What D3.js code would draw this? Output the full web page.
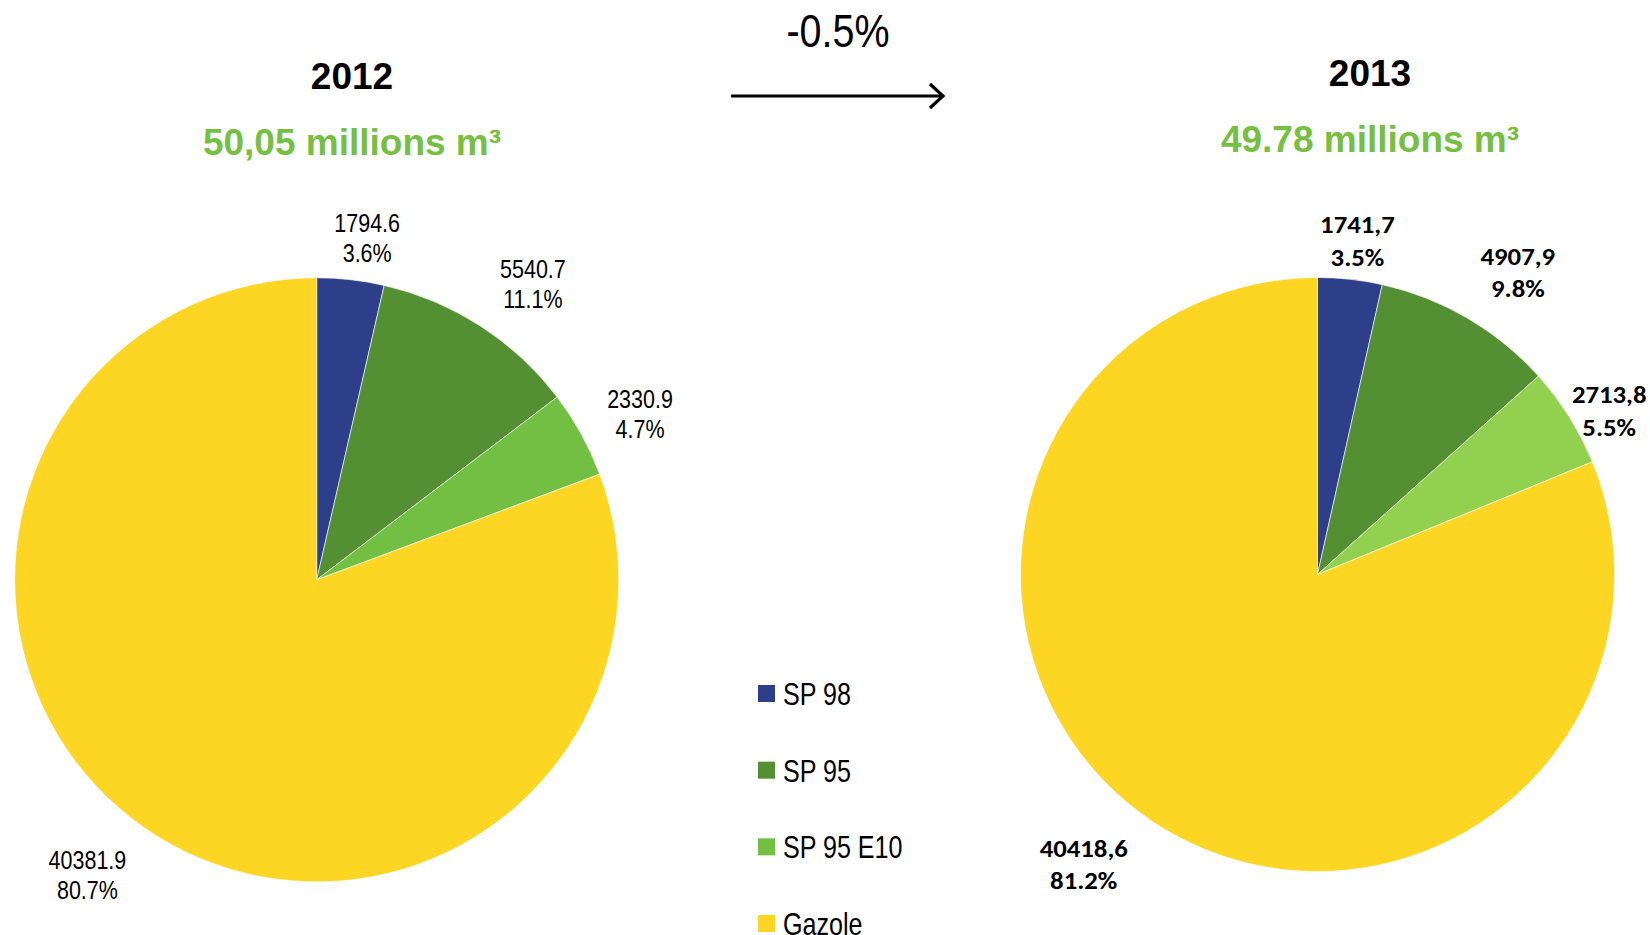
<!DOCTYPE html>
<html>
<head>
<meta charset="utf-8">
<script src="https://cdn.jsdelivr.net/npm/d3@7"></script>
<style>
  body { margin: 0; background: #fff; }
  svg { display: block; }
  .arial { font-family: "Liberation Sans", Arial, sans-serif; }
  .calib { font-family: Carlito, Calibri, Lato, sans-serif; font-weight: bold; }
</style>
</head>
<body>
<div id="chart"></div>
<script>
var width = 1650, height = 935;

var svg = d3.select("#chart").append("svg")
    .attr("width", width)
    .attr("height", height);

// volumes (milliers de m3) par carburant
var pies = [
  {year: "2012", total: "50,05 millions m\u00b3", cx: 316.7, cy: 579.8, r: 302,
   cls: "arial", size: 25, sx: 0.86, gap: 30, titleY: 89, totalY: 155,
   data: [
     {name: "SP 98", value: 1794.6, label: "1794.6", pct: "3.6%", color: "#2e3f8a", nx: 10, ny: 16},
     {name: "SP 95", value: 5540.7, label: "5540.7", pct: "11.1%", color: "#548f33", nx: 21, ny: 7},
     {name: "SP 95 E10", value: 2330.9, label: "2330.9", pct: "4.7%", color: "#72bf44", nx: 8, ny: 8},
     {name: "Gazole", value: 40381.9, label: "40381.9", pct: "80.7%", color: "#fdd523", nx: -24, ny: 0}
   ]},
  {year: "2013", total: "49.78 millions m\u00b3", cx: 1317.5, cy: 574.5, r: 297,
   cls: "calib", size: 25, sx: 1.07, gap: 32.5, titleY: 86, totalY: 152,
   data: [
     {name: "SP 98", value: 1741.7, label: "1741,7", pct: "3.5%", color: "#2e3f8a", nx: 1, ny: 18},
     {name: "SP 95", value: 4907.9, label: "4907,9", pct: "9.8%", color: "#548f33", nx: 21, ny: 3},
     {name: "SP 95 E10", value: 2713.8, label: "2713,8", pct: "5.5%", color: "#92d050", nx: -9, ny: 24},
     {name: "Gazole", value: 40418.6, label: "40418,6", pct: "81.2%", color: "#fdd523", nx: -36, ny: -6}
   ]}
];

var pie = d3.pie()
    .sort(null)
    .value(function(d){ return d.value; });

pies.forEach(function(p, i){
  var g = svg.append("g")
      .attr("transform", "translate(" + p.cx + "," + p.cy + ")");

  var arc = d3.arc().innerRadius(0).outerRadius(p.r);
  var labelArc = d3.arc().innerRadius(p.r + 58).outerRadius(p.r + 58);

  var arcs = pie(p.data);

  g.selectAll("path")
      .data(arcs)
    .enter().append("path")
      .attr("d", arc)
      .style("fill", function(d){ return d.data.color; })
      .style("stroke", "#fff")
      .style("stroke-width", 0.6);

  var lab = g.selectAll("g.lab")
      .data(arcs)
    .enter().append("g")
      .attr("class", "lab")
      .attr("transform", function(d){
        var c = labelArc.centroid(d);
        return "translate(" + (c[0] + d.data.nx) + "," + (c[1] + d.data.ny - 6.5) + ")";
      })
    .append("text")
      .attr("class", p.cls)
      .attr("text-anchor", "middle")
      .attr("transform", "scale(" + p.sx + ",1)")
      .style("font-size", p.size + "px")
      .style("fill", "#000");
  lab.append("tspan")
      .attr("x", 0)
      .attr("y", 0)
      .text(function(d){ return d.data.label; });
  lab.append("tspan")
      .attr("x", 0)
      .attr("y", p.gap)
      .text(function(d){ return d.data.pct; });

  // titres
  var tx = i == 0 ? 352 : 1370;
  svg.append("text")
      .attr("class", "arial")
      .attr("x", tx)
      .attr("y", p.titleY)
      .attr("text-anchor", "middle")
      .style("font-weight", "bold")
      .style("font-size", "37px")
      .text(p.year);

  svg.append("text")
      .attr("class", "arial")
      .attr("x", tx)
      .attr("y", p.totalY)
      .attr("text-anchor", "middle")
      .style("font-weight", "bold")
      .style("font-size", "37px")
      .style("fill", "#76bf43")
      .text(p.total);
});

// variation
svg.append("g")
    .attr("transform", "translate(838,47) scale(0.84,1)")
  .append("text")
    .attr("class", "arial")
    .attr("text-anchor", "middle")
    .style("font-size", "47px")
    .text("-0.5%");

svg.append("line")
    .attr("x1", 731).attr("x2", 943)
    .attr("y1", 96).attr("y2", 96)
    .style("stroke", "#000")
    .style("stroke-width", 3.2);

svg.append("path")
    .attr("d", "M930,84 L943,96 L930,108")
    .style("fill", "none")
    .style("stroke", "#000")
    .style("stroke-width", 3.2);

// legende
var legendData = pies[0].data;

var ly = d3.scalePoint()
    .domain(legendData.map(function(d){ return d.name; }))
    .range([685, 915]);

var leg = svg.selectAll("g.leg")
    .data(legendData)
  .enter().append("g")
    .attr("class", "leg")
    .attr("transform", function(d){ return "translate(758," + ly(d.name) + ")"; });

leg.append("rect")
    .attr("width", 17)
    .attr("height", 17)
    .style("fill", function(d){ return d.color; });

leg.append("g")
    .attr("transform", "translate(25,20) scale(0.81,1)")
  .append("text")
    .attr("class", "arial")
    .style("font-size", "31px")
    .text(function(d){ return d.name; });
</script>
</body>
</html>
